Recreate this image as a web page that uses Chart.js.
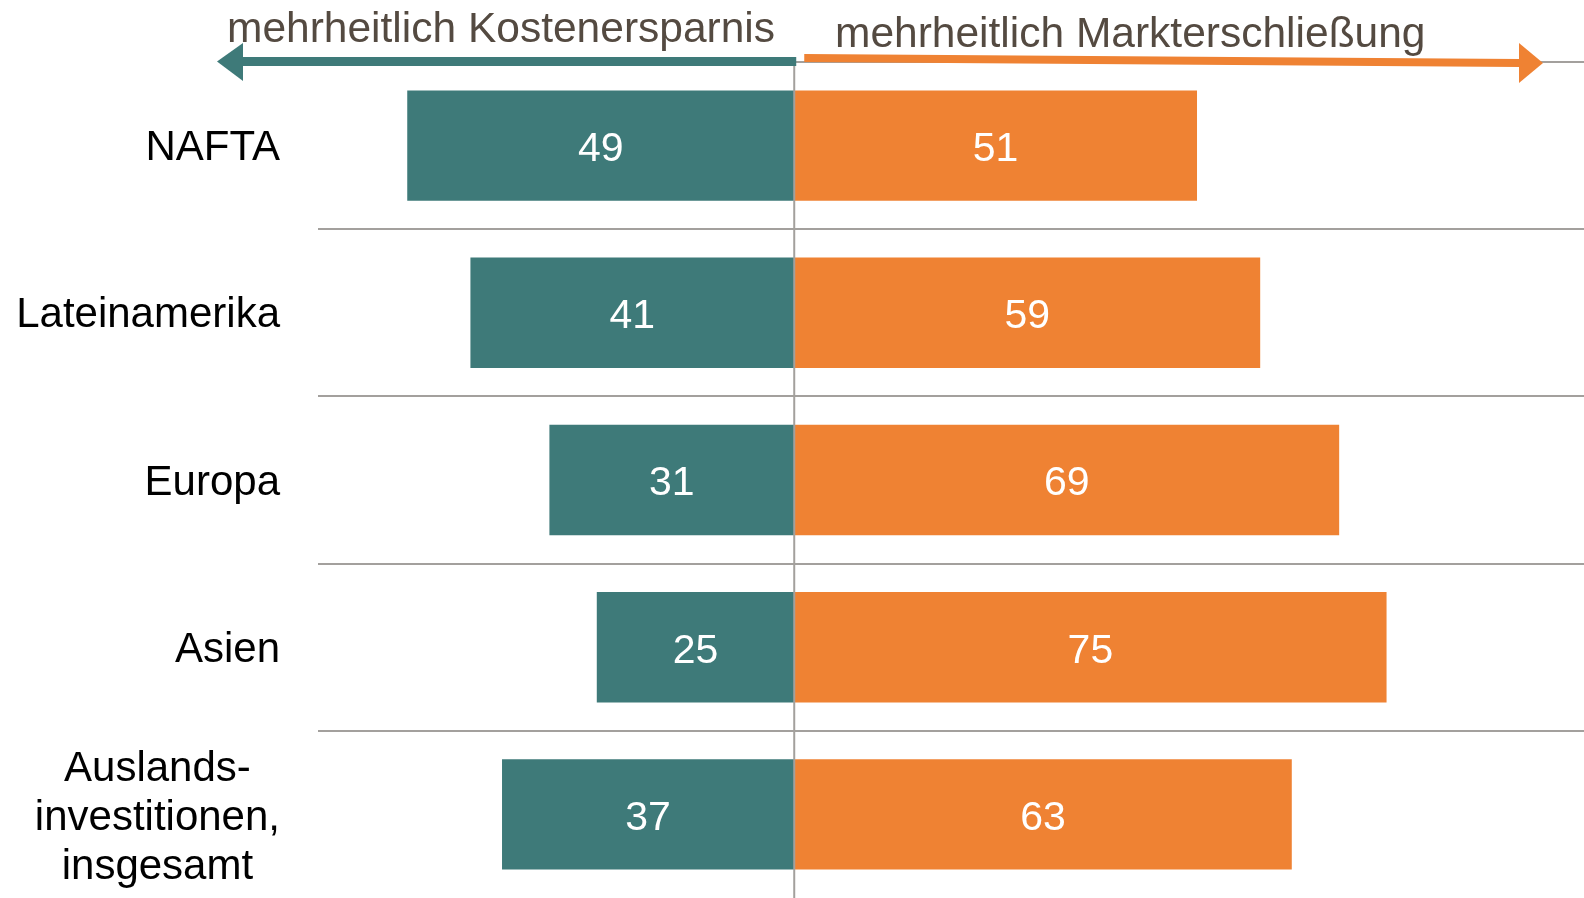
<!DOCTYPE html>
<html>
<head>
<meta charset="utf-8">
<script src="https://cdn.jsdelivr.net/npm/chart.js@4/dist/chart.umd.min.js"></script>
<style>
  html, body { margin: 0; padding: 0; background: #fff; }
  #wrap { width: 1584px; height: 898px; position: relative; }
</style>
</head>
<body>
<div id="wrap"><canvas id="chart"></canvas></div>
<script>
const categories = ["NAFTA", "Lateinamerika", "Europa", "Asien", ["Auslands-", "investitionen,", "insgesamt"]];
const kostenersparnis = [49, 41, 31, 25, 37];
const markterschliessung = [51, 59, 69, 75, 63];
const headerLeft = "mehrheitlich Kostenersparnis";
const headerRight = "mehrheitlich Markterschließung";

const TEAL = "#3e7a79";
const ORANGE = "#ef8233";
const GRID = "#a3a09d";
const FONT = "'Liberation Sans', Arial, sans-serif";

const decorPlugin = {
  id: "decor",
  afterDatasetsDraw(chart) {
    const ctx = chart.ctx;
    const area = chart.chartArea;
    const xs = chart.scales.x;
    const ys = chart.scales.y;
    const zero = xs.getPixelForValue(0);

    // center line
    ctx.save();
    ctx.strokeStyle = GRID;
    ctx.lineWidth = 2;
    ctx.beginPath();
    ctx.moveTo(zero, area.top - 2);
    ctx.lineTo(zero, area.bottom);
    ctx.stroke();

    // value labels
    ctx.fillStyle = "#ffffff";
    ctx.font = "41px " + FONT;
    ctx.textAlign = "center";
    ctx.textBaseline = "middle";
    chart.data.datasets.forEach((ds, di) => {
      chart.getDatasetMeta(di).data.forEach((bar, i) => {
        const cx = (bar.x + bar.base) / 2;
        ctx.fillText(String(Math.abs(ds.data[i])), cx, bar.y + 4);
      });
    });

    // category labels
    ctx.fillStyle = "#000000";
    ctx.font = "42px " + FONT;
    const labelRight = area.left - 38;
    categories.forEach((c, i) => {
      const y = ys.getPixelForValue(i);
      if (Array.isArray(c)) {
        const lh = 49;
        const w = Math.max(...c.map(s => ctx.measureText(s).width));
        const cx = labelRight - w / 2;
        ctx.textAlign = "center";
        c.forEach((s, k) => {
          ctx.fillText(s, cx, y + (k - (c.length - 1) / 2) * lh + 4);
        });
      } else {
        ctx.textAlign = "right";
        ctx.fillText(c, labelRight, y + 3);
      }
    });

    // header arrows
    const top = area.top;
    ctx.fillStyle = TEAL;
    const tipL = 217, baseL = 243;
    ctx.fillRect(baseL - 1, top - 5, zero - baseL + 3, 9);
    ctx.beginPath();
    ctx.moveTo(tipL, top - 0.5);
    ctx.lineTo(baseL, top - 19);
    ctx.lineTo(baseL, top + 19);
    ctx.closePath();
    ctx.fill();

    ctx.fillStyle = ORANGE;
    const startR = zero + 10, baseR = 1519, tipR = 1543;
    ctx.beginPath();
    ctx.moveTo(startR, top - 8);
    ctx.lineTo(baseR + 1, top - 3);
    ctx.lineTo(baseR + 1, top + 5);
    ctx.lineTo(startR, top);
    ctx.closePath();
    ctx.fill();
    ctx.beginPath();
    ctx.moveTo(tipR, top + 1);
    ctx.lineTo(baseR, top - 19);
    ctx.lineTo(baseR, top + 21);
    ctx.closePath();
    ctx.fill();

    // header texts
    ctx.fillStyle = "#544a41";
    ctx.font = "42.5px " + FONT;
    ctx.textAlign = "left";
    ctx.textBaseline = "alphabetic";
    ctx.fillText(headerLeft, 227, 42);
    ctx.fillText(headerRight, 835, 47);
    ctx.restore();
  }
};

new Chart(document.getElementById("chart"), {
  type: "bar",
  data: {
    labels: categories,
    datasets: [
      {
        label: "Kostenersparnis",
        data: kostenersparnis.map(v => -v),
        backgroundColor: TEAL,
        borderWidth: 0,
        barPercentage: 0.66,
        categoryPercentage: 1,
      },
      {
        label: "Markterschließung",
        data: markterschliessung,
        backgroundColor: ORANGE,
        borderWidth: 0,
        barPercentage: 0.66,
        categoryPercentage: 1,
      },
    ],
  },
  options: {
    indexAxis: "y",
    responsive: true,
    maintainAspectRatio: false,
    animation: false,
    layout: { padding: { top: 62, left: 0, right: 0, bottom: 0 } },
    scales: {
      x: {
        stacked: true,
        min: -60.3,
        max: 100,
        display: false,
      },
      y: {
        stacked: true,
        offset: true,
        ticks: { display: false },
        border: { display: false },
        grid: {
          offset: true,
          drawTicks: false,
          color: (c) => (c.tick ? GRID : "rgba(0,0,0,0)"),
          lineWidth: 2,
        },
        afterFit(scale) {
          scale.width = 318;
        },
      },
    },
    plugins: {
      legend: { display: false },
      tooltip: { enabled: false },
    },
  },
  plugins: [decorPlugin],
});
</script>
</body>
</html>
